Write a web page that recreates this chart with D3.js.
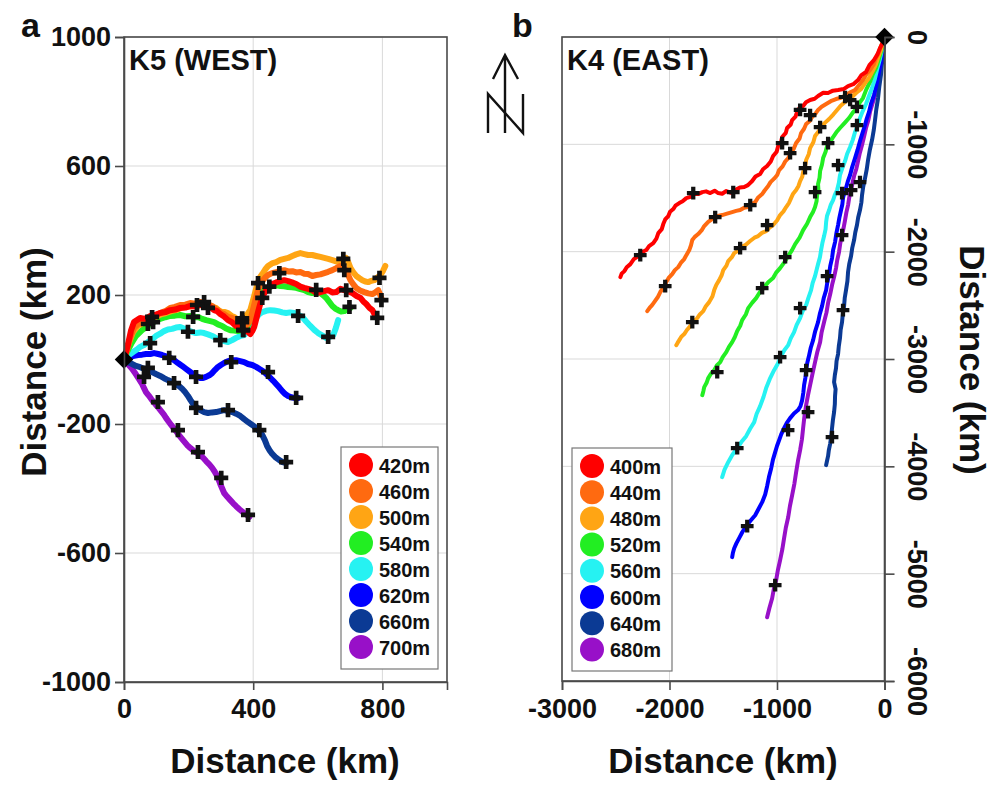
<!DOCTYPE html>
<html>
<head>
<meta charset="utf-8">
<script src="https://cdn.jsdelivr.net/npm/d3@7"></script>
<style>
  body { margin: 0; background: #fff; }
  svg text { font-family: "Liberation Sans", Arial, Helvetica, sans-serif; font-weight: bold; fill: #111; }
</style>
</head>
<body>
<svg id="fig" width="994" height="785"></svg>
<script>
// ---------- Panel a: K5 (WEST) float tracks, km east / km north of the release point ----------
const westDepths = ["420m", "460m", "500m", "540m", "580m", "620m", "660m", "700m"];
const westColors = ["#ff0000", "#ff6a10", "#ffa514", "#22ee22", "#26f2f2", "#0000ff", "#0b3a94", "#9810c8"];
const westTicksX = [0, 400, 800];
const westTicksY = [-1000, -600, -200, 200, 600, 1000];

const westTrack420 = [[0,0],[12,45],[22,91],[31,116],[50,129],[66,126],[81,135],[97,138],[112,144],[128,147],[143,153],[158,155],[174,160],[190,161],[205,166],[220,164],[236,169],[248,170],[260,166],[270,160],[279,153],[288,150],[298,141],[310,133],[322,122],[335,115],[347,104],[360,98],[372,91],[383,86],[391,79],[397,88],[403,101],[409,124],[415,147],[421,170],[428,191],[434,205],[440,215],[450,225],[459,234],[471,239],[484,243],[496,246],[508,243],[520,239],[533,234],[546,226],[558,222],[570,219],[583,215],[596,206],[608,209],[620,212],[632,215],[645,208],[657,209],[670,219],[682,215],[695,211],[707,206],[720,197],[732,191],[741,180],[750,172],[760,160],[769,153],[777,138],[784,129]];
const westTrack460 = [[0,0],[9,29],[19,67],[31,98],[50,116],[66,121],[81,129],[97,138],[112,144],[128,150],[143,160],[158,163],[174,169],[190,170],[205,175],[220,173],[236,178],[245,177],[254,175],[263,170],[273,166],[282,158],[291,153],[300,145],[310,141],[322,132],[335,129],[347,121],[360,116],[369,108],[378,104],[385,112],[391,122],[397,145],[403,169],[409,193],[415,215],[421,230],[428,243],[437,254],[446,262],[458,268],[471,271],[484,275],[496,277],[508,273],[521,274],[533,270],[546,271],[558,266],[570,265],[583,259],[595,262],[608,264],[620,268],[632,272],[645,277],[657,283],[670,290],[680,284],[688,277],[694,262],[701,246],[710,233],[719,222],[731,214],[744,209],[756,205],[769,203],[778,208],[787,215],[792,204],[797,190]];
const westTrack500 = [[0,0],[6,23],[16,54],[28,85],[43,104],[56,112],[68,119],[84,126],[99,132],[115,140],[130,144],[146,150],[161,153],[177,160],[192,163],[208,165],[223,169],[236,168],[248,172],[258,170],[267,166],[276,162],[285,160],[294,152],[304,147],[313,147],[322,144],[332,136],[341,132],[350,125],[360,122],[366,126],[372,129],[382,141],[391,153],[397,175],[403,197],[409,219],[415,240],[421,255],[428,265],[437,279],[446,290],[458,298],[471,302],[484,309],[496,312],[508,315],[521,321],[533,326],[546,330],[558,327],[570,324],[583,324],[595,321],[608,318],[620,315],[632,312],[645,308],[657,304],[670,302],[679,309],[688,315],[695,300],[701,284],[710,270],[719,259],[729,252],[738,246],[747,242],[756,240],[766,244],[775,246],[785,255],[794,262],[802,275],[809,290]];
const westTrack540 = [[0,0],[9,23],[22,48],[37,73],[56,91],[68,100],[81,110],[97,119],[112,126],[128,131],[143,135],[158,136],[174,138],[190,134],[205,135],[217,131],[229,132],[242,126],[254,122],[267,119],[279,116],[291,109],[304,104],[316,96],[329,91],[341,90],[353,88],[366,93],[378,95],[385,108],[391,122],[397,142],[403,163],[409,180],[415,194],[424,206],[434,215],[446,222],[459,228],[471,230],[484,228],[496,227],[508,225],[520,224],[533,222],[546,218],[558,215],[570,209],[583,206],[595,209],[608,206],[617,199],[626,191],[636,178],[645,166],[654,158],[663,153],[672,149],[682,150],[692,156],[701,160]];
const westTrack580 = [[0,0],[12,11],[28,23],[40,31],[50,39],[62,45],[74,54],[86,62],[99,73],[112,80],[124,88],[136,93],[149,95],[161,99],[174,101],[186,96],[198,91],[210,86],[223,82],[236,84],[248,82],[260,78],[273,73],[285,66],[298,60],[310,57],[322,54],[335,60],[347,67],[360,73],[372,76],[382,88],[391,98],[400,113],[409,129],[418,140],[428,147],[440,151],[453,153],[465,152],[477,150],[490,146],[502,144],[514,146],[527,144],[540,138],[552,132],[564,118],[577,104],[589,92],[601,82],[613,75],[626,67],[637,70],[648,76],[656,98],[663,122]];
const westTrack620 = [[0,0],[19,8],[31,11],[43,14],[56,15],[68,17],[81,17],[93,20],[106,17],[118,14],[130,10],[143,5],[155,-2],[167,-11],[180,-20],[192,-29],[204,-38],[217,-48],[226,-53],[236,-57],[245,-57],[254,-54],[264,-49],[273,-42],[282,-32],[291,-23],[300,-17],[310,-11],[322,-5],[335,-2],[347,-2],[360,-5],[372,-8],[384,-14],[397,-17],[409,-23],[422,-31],[434,-39],[444,-48],[453,-57],[462,-66],[471,-76],[481,-87],[490,-98],[499,-107],[508,-113],[518,-117],[527,-119],[539,-119]];
const westTrack660 = [[0,0],[19,-11],[37,-20],[50,-24],[62,-29],[75,-34],[87,-39],[99,-45],[112,-51],[124,-58],[136,-64],[149,-69],[161,-76],[171,-83],[180,-91],[189,-101],[198,-113],[206,-126],[214,-138],[225,-148],[236,-157],[248,-163],[260,-166],[272,-164],[285,-163],[297,-160],[310,-157],[322,-160],[335,-163],[347,-168],[360,-175],[372,-185],[384,-194],[397,-203],[409,-212],[419,-223],[428,-234],[436,-250],[443,-268],[451,-282],[459,-293],[470,-304],[481,-312],[491,-318],[502,-321]];
const westTrack700 = [[0,0],[12,-14],[25,-29],[33,-40],[40,-51],[48,-63],[56,-76],[62,-89],[68,-101],[76,-111],[84,-122],[91,-131],[99,-141],[107,-150],[115,-160],[123,-170],[130,-181],[138,-192],[146,-203],[153,-212],[161,-222],[169,-233],[177,-243],[186,-254],[195,-265],[206,-275],[217,-284],[227,-290],[236,-296],[245,-305],[254,-315],[264,-325],[273,-336],[281,-348],[288,-361],[293,-373],[298,-386],[304,-400],[310,-414],[319,-425],[329,-436],[338,-446],[347,-455],[358,-465],[369,-474],[379,-481],[388,-488]];

const westMarks420 = [[87,132],[260,160],[369,91],[428,191],[688,215],[784,129]];
const westMarks460 = [[74,110],[248,178],[366,116],[481,268],[682,277],[797,184]];
const westMarks500 = [[226,169],[366,128],[415,237],[679,312],[791,253]];
const westMarks540 = [[90,116],[214,132],[369,91],[450,226],[595,216],[698,163]];
const westMarks580 = [[81,51],[198,86],[298,60],[539,135],[632,70]];
const westMarks620 = [[140,5],[223,-54],[332,-8],[446,-39],[533,-119]];
const westMarks660 = [[74,-26],[155,-73],[223,-150],[322,-157],[419,-219],[502,-318]];
const westMarks700 = [[62,-54],[105,-132],[167,-219],[229,-287],[301,-367],[384,-482]];

// ---------- Panel b: K4 (EAST) float tracks ----------
const eastDepths = ["400m", "440m", "480m", "520m", "560m", "600m", "640m", "680m"];
const eastColors = ["#ff0000", "#ff6a10", "#ffa514", "#22ee22", "#26f2f2", "#0000ff", "#0b3a94", "#9810c8"];
const eastTicksX = [-3000, -2000, -1000, 0];
const eastTicksY = [0, -1000, -2000, -3000, -4000, -5000, -6000];

const eastTrack400 = [[0,0],[-18,-55],[-42,-103],[-66,-162],[-98,-214],[-140,-262],[-172,-326],[-215,-355],[-246,-401],[-290,-440],[-339,-457],[-380,-485],[-432,-494],[-480,-500],[-525,-522],[-570,-520],[-618,-550],[-650,-575],[-692,-587],[-730,-608],[-757,-643],[-790,-660],[-813,-699],[-828,-742],[-859,-774],[-872,-815],[-906,-848],[-918,-893],[-952,-932],[-962,-978],[-989,-1016],[-1003,-1068],[-1036,-1109],[-1058,-1160],[-1092,-1202],[-1130,-1232],[-1157,-1277],[-1200,-1300],[-1231,-1342],[-1270,-1380],[-1305,-1398],[-1345,-1402],[-1389,-1426],[-1425,-1452],[-1472,-1435],[-1510,-1460],[-1547,-1454],[-1580,-1432],[-1621,-1454],[-1660,-1438],[-1695,-1445],[-1730,-1462],[-1770,-1463],[-1805,-1490],[-1844,-1501],[-1878,-1530],[-1909,-1547],[-1945,-1572],[-1965,-1603],[-1995,-1628],[-2011,-1668],[-2040,-1700],[-2058,-1743],[-2072,-1790],[-2104,-1827],[-2122,-1878],[-2151,-1920],[-2190,-1948],[-2216,-1985],[-2258,-2005],[-2290,-2041],[-2332,-2070],[-2364,-2116],[-2398,-2145],[-2420,-2181],[-2445,-2205],[-2457,-2237]];
const eastTrack440 = [[0,0],[-15,-45],[-33,-84],[-52,-142],[-79,-196],[-100,-255],[-135,-308],[-170,-350],[-200,-401],[-240,-452],[-274,-494],[-318,-515],[-358,-541],[-405,-566],[-451,-578],[-500,-598],[-543,-624],[-585,-650],[-618,-680],[-640,-712],[-674,-746],[-695,-782],[-729,-811],[-748,-855],[-776,-895],[-790,-945],[-822,-988],[-845,-1042],[-878,-1090],[-895,-1128],[-924,-1160],[-948,-1205],[-980,-1240],[-998,-1285],[-1027,-1320],[-1060,-1352],[-1082,-1389],[-1115,-1430],[-1138,-1463],[-1175,-1495],[-1203,-1538],[-1240,-1560],[-1268,-1584],[-1305,-1590],[-1343,-1612],[-1380,-1620],[-1417,-1631],[-1465,-1645],[-1510,-1659],[-1560,-1670],[-1603,-1696],[-1640,-1722],[-1677,-1761],[-1700,-1800],[-1733,-1836],[-1765,-1862],[-1788,-1892],[-1800,-1940],[-1816,-1985],[-1842,-2030],[-1863,-2069],[-1895,-2105],[-1919,-2144],[-1950,-2172],[-1975,-2209],[-2008,-2245],[-2030,-2283],[-2055,-2332],[-2086,-2376],[-2110,-2425],[-2142,-2470],[-2160,-2495],[-2179,-2516],[-2207,-2554]];
const eastTrack480 = [[0,0],[-14,-62],[-33,-121],[-58,-190],[-79,-252],[-110,-318],[-144,-382],[-180,-430],[-218,-485],[-258,-515],[-293,-550],[-335,-575],[-367,-606],[-408,-640],[-441,-680],[-475,-720],[-515,-764],[-555,-800],[-590,-839],[-612,-878],[-646,-923],[-662,-980],[-692,-1035],[-705,-1092],[-729,-1146],[-738,-1200],[-757,-1258],[-765,-1300],[-785,-1342],[-800,-1388],[-822,-1426],[-850,-1460],[-869,-1501],[-888,-1545],[-915,-1584],[-940,-1625],[-971,-1659],[-1000,-1710],[-1036,-1752],[-1070,-1775],[-1101,-1808],[-1140,-1825],[-1175,-1855],[-1210,-1870],[-1250,-1901],[-1290,-1935],[-1333,-1957],[-1362,-1990],[-1398,-2013],[-1420,-2052],[-1454,-2088],[-1470,-2130],[-1500,-2172],[-1515,-2220],[-1538,-2265],[-1565,-2310],[-1584,-2358],[-1600,-2415],[-1631,-2470],[-1662,-2508],[-1686,-2554],[-1718,-2585],[-1742,-2619],[-1778,-2652],[-1807,-2694],[-1838,-2730],[-1863,-2768],[-1890,-2792],[-1909,-2824],[-1925,-2850],[-1937,-2871]];
const eastTrack520 = [[0,0],[-14,-72],[-33,-140],[-55,-215],[-79,-289],[-110,-350],[-135,-419],[-170,-490],[-200,-569],[-232,-612],[-256,-662],[-295,-705],[-330,-755],[-370,-800],[-414,-848],[-448,-888],[-478,-932],[-505,-978],[-534,-1016],[-548,-1070],[-571,-1128],[-582,-1190],[-599,-1249],[-604,-1310],[-618,-1370],[-615,-1420],[-627,-1473],[-632,-1530],[-646,-1584],[-665,-1630],[-692,-1678],[-720,-1740],[-757,-1799],[-790,-1870],[-831,-1929],[-860,-1985],[-896,-2041],[-932,-2100],[-971,-2153],[-1008,-2195],[-1036,-2246],[-1080,-2282],[-1119,-2330],[-1160,-2378],[-1194,-2433],[-1230,-2475],[-1268,-2526],[-1290,-2585],[-1324,-2638],[-1342,-2690],[-1370,-2740],[-1392,-2795],[-1417,-2843],[-1448,-2890],[-1472,-2936],[-1505,-2982],[-1528,-3029],[-1560,-3060],[-1584,-3104],[-1615,-3138],[-1640,-3178],[-1655,-3222],[-1677,-3262],[-1685,-3300],[-1695,-3337]];
const eastTrack560 = [[0,0],[-10,-60],[-23,-121],[-45,-215],[-70,-308],[-90,-392],[-116,-475],[-145,-552],[-172,-624],[-202,-690],[-228,-755],[-248,-822],[-274,-885],[-295,-958],[-320,-1025],[-348,-1090],[-367,-1156],[-392,-1222],[-414,-1286],[-425,-1360],[-441,-1426],[-462,-1470],[-478,-1519],[-500,-1565],[-515,-1612],[-535,-1668],[-543,-1724],[-548,-1790],[-562,-1855],[-578,-1920],[-590,-1985],[-600,-2050],[-618,-2116],[-632,-2170],[-646,-2227],[-668,-2290],[-683,-2358],[-708,-2430],[-729,-2498],[-762,-2555],[-785,-2619],[-818,-2685],[-841,-2750],[-872,-2808],[-896,-2871],[-932,-2918],[-962,-2973],[-990,-3040],[-1027,-3104],[-1068,-3188],[-1101,-3271],[-1125,-3352],[-1157,-3439],[-1190,-3512],[-1212,-3588],[-1250,-3650],[-1287,-3719],[-1330,-3772],[-1370,-3831],[-1415,-3892],[-1454,-3961],[-1488,-4030],[-1510,-4101]];
const eastTrack600 = [[0,0],[-5,-60],[-14,-121],[-30,-225],[-51,-326],[-72,-435],[-98,-541],[-125,-620],[-144,-699],[-165,-760],[-181,-820],[-205,-895],[-228,-969],[-250,-1050],[-274,-1128],[-300,-1210],[-320,-1286],[-342,-1348],[-358,-1407],[-375,-1455],[-386,-1501],[-392,-1558],[-404,-1612],[-420,-1685],[-432,-1752],[-448,-1830],[-460,-1911],[-478,-1985],[-488,-2060],[-505,-2135],[-515,-2209],[-532,-2285],[-543,-2358],[-565,-2432],[-581,-2507],[-602,-2582],[-618,-2656],[-645,-2742],[-664,-2824],[-686,-2895],[-701,-2964],[-718,-3035],[-729,-3104],[-736,-3175],[-748,-3243],[-755,-3312],[-766,-3383],[-782,-3440],[-804,-3476],[-842,-3508],[-878,-3551],[-910,-3598],[-934,-3644],[-960,-3700],[-980,-3756],[-1000,-3810],[-1017,-3868],[-1038,-3940],[-1054,-4017],[-1075,-4100],[-1092,-4185],[-1110,-4262],[-1138,-4334],[-1172,-4398],[-1203,-4455],[-1245,-4505],[-1287,-4557],[-1322,-4612],[-1352,-4669],[-1378,-4718],[-1398,-4763],[-1410,-4805],[-1417,-4846]];
const eastTrack640 = [[0,0],[-6,-85],[-14,-168],[-25,-260],[-33,-354],[-48,-460],[-60,-569],[-76,-672],[-88,-774],[-100,-868],[-116,-960],[-136,-1050],[-153,-1146],[-165,-1232],[-181,-1314],[-198,-1395],[-209,-1473],[-215,-1542],[-228,-1612],[-245,-1682],[-256,-1752],[-272,-1822],[-283,-1892],[-300,-1965],[-311,-2041],[-328,-2115],[-339,-2190],[-345,-2275],[-358,-2358],[-370,-2432],[-376,-2507],[-388,-2582],[-395,-2656],[-408,-2730],[-414,-2805],[-425,-2880],[-432,-2954],[-446,-3020],[-451,-3085],[-462,-3150],[-469,-3215],[-455,-3280],[-460,-3346],[-462,-3420],[-469,-3495],[-480,-3570],[-488,-3644],[-495,-3720],[-506,-3793],[-518,-3850],[-525,-3905],[-535,-3950],[-543,-3989]];
const eastTrack680 = [[0,0],[-10,-85],[-23,-168],[-38,-262],[-51,-354],[-70,-450],[-88,-541],[-112,-622],[-135,-699],[-150,-775],[-172,-848],[-190,-928],[-209,-1007],[-230,-1082],[-246,-1156],[-262,-1228],[-283,-1295],[-298,-1362],[-311,-1426],[-328,-1495],[-339,-1566],[-355,-1636],[-367,-1706],[-380,-1775],[-395,-1845],[-412,-1925],[-423,-2004],[-440,-2080],[-451,-2153],[-468,-2232],[-488,-2311],[-505,-2395],[-525,-2479],[-540,-2568],[-562,-2656],[-585,-2750],[-599,-2843],[-625,-2935],[-646,-3029],[-670,-3138],[-692,-3243],[-712,-3338],[-729,-3430],[-745,-3535],[-757,-3644],[-768,-3748],[-785,-3849],[-805,-3950],[-822,-4054],[-838,-4160],[-859,-4269],[-880,-4372],[-896,-4474],[-918,-4572],[-934,-4669],[-950,-4770],[-971,-4874],[-992,-4968],[-1008,-5061],[-1030,-5145],[-1045,-5229],[-1070,-5318],[-1092,-5406]];

const eastMarks400 = [[-785,-680],[-952,-988],[-1407,-1445],[-1779,-1454],[-2272,-2032]];
const eastMarks440 = [[-367,-559],[-692,-727],[-878,-1081],[-1249,-1566],[-1575,-1678],[-2040,-2321]];
const eastMarks480 = [[-320,-587],[-599,-839],[-739,-1221],[-1092,-1752],[-1343,-1967],[-1788,-2656]];
const eastMarks520 = [[-256,-652],[-525,-988],[-646,-1445],[-924,-2050],[-1138,-2339],[-1556,-3122]];
const eastMarks560 = [[-256,-820],[-432,-1193],[-785,-2526],[-971,-2982],[-1370,-3831]];
const eastMarks600 = [[-395,-1454],[-534,-2227],[-729,-3104],[-897,-3663],[-1277,-4557]];
const eastMarks640 = [[-228,-1351],[-386,-2544],[-488,-3728]];
const eastMarks680 = [[-311,-1426],[-395,-1845],[-711,-3495],[-1017,-5107]];

const westTracks = [westTrack420, westTrack460, westTrack500, westTrack540, westTrack580, westTrack620, westTrack660, westTrack700];
const westMarks = [westMarks420, westMarks460, westMarks500, westMarks540, westMarks580, westMarks620, westMarks660, westMarks700];
const eastTracks = [eastTrack400, eastTrack440, eastTrack480, eastTrack520, eastTrack560, eastTrack600, eastTrack640, eastTrack680];
const eastMarks = [eastMarks400, eastMarks440, eastMarks480, eastMarks520, eastMarks560, eastMarks600, eastMarks640, eastMarks680];

const svg = d3.select("#fig");
const gridColor = "#d9d9d9";
const frameColor = "#4a4a4a";

function drawPanel(p) {
  const g = svg.append("g");
  const [x0, x1] = p.x.range();
  const [y0, y1] = p.y.range(); // y0 bottom, y1 top

  // grid
  g.append("g").selectAll("line").data(p.ticksX).join("line")
    .attr("x1", d => p.x(d)).attr("x2", d => p.x(d))
    .attr("y1", y0).attr("y2", y1)
    .attr("stroke", gridColor).attr("stroke-width", 1);
  g.append("g").selectAll("line").data(p.ticksY).join("line")
    .attr("x1", x0).attr("x2", x1)
    .attr("y1", d => p.y(d)).attr("y2", d => p.y(d))
    .attr("stroke", gridColor).attr("stroke-width", 1);

  // tracks, deepest first so the shallow ones sit on top
  const line = d3.line().x(d => p.x(d[0])).y(d => p.y(d[1]));
  const order = d3.range(p.tracks.length).reverse();
  g.append("g").selectAll("path").data(order).join("path")
    .attr("d", i => line(p.tracks[i]))
    .attr("fill", "none")
    .attr("stroke", i => p.colors[i])
    .attr("stroke-width", p.lineWidth)
    .attr("stroke-linejoin", "round")
    .attr("stroke-linecap", "round");

  // time markers
  const cross = d3.symbol().type(d3.symbolCross).size(p.markSize)();
  const marks = p.marks.flat();
  g.append("g").selectAll("path").data(marks).join("path")
    .attr("d", cross)
    .attr("transform", d => `translate(${p.x(d[0])},${p.y(d[1])})`)
    .attr("fill", "#111");

  // frame
  g.append("rect")
    .attr("x", x0).attr("y", y1)
    .attr("width", x1 - x0).attr("height", y0 - y1)
    .attr("fill", "none").attr("stroke", frameColor).attr("stroke-width", 1.6);

  // release point
  g.append("path")
    .attr("d", d3.symbol().type(d3.symbolSquare).size(170)())
    .attr("transform", `translate(${p.x(0)},${p.y(0)}) rotate(45)`)
    .attr("fill", "#000");

  // panel title inside frame
  g.append("text").attr("x", x0 + 5).attr("y", y1 + 33)
    .attr("font-size", 29).text(p.title);

  // legend
  const lg = g.append("g");
  lg.append("rect")
    .attr("x", p.legend.x).attr("y", p.legend.y)
    .attr("width", p.legend.w).attr("height", p.legend.h)
    .attr("fill", "#fff").attr("stroke", "#777").attr("stroke-width", 1.2);
  const rows = lg.selectAll("g").data(p.depths).join("g")
    .attr("transform", (d, i) => `translate(${p.legend.x},${p.legend.y + 18 + i * p.legend.step})`);
  rows.append("circle").attr("cx", 20).attr("cy", 0).attr("r", 12)
    .attr("fill", (d, i) => p.colors[i]);
  rows.append("text").attr("x", 38).attr("y", 7.5)
    .attr("font-size", 20).text(d => d);
  return g;
}

// ---------- panel a ----------
const xA = d3.scaleLinear().domain([0, 1000]).range([124, 447]);
const yA = d3.scaleLinear().domain([-1000, 1000]).range([682, 37]);
drawPanel({
  x: xA, y: yA, ticksX: westTicksX, ticksY: westTicksY,
  tracks: westTracks, marks: westMarks, colors: westColors, depths: westDepths,
  lineWidth: 6, markSize: 110, title: "K5 (WEST)",
  legend: { x: 341, y: 447, w: 97, h: 222, step: 26 }
});
const fmt = d => String(d);
const axAL = svg.append("g").attr("transform", "translate(124,0)")
  .call(d3.axisLeft(yA).tickValues(westTicksY).tickSize(9).tickPadding(4).tickFormat(fmt));
const axAB = svg.append("g").attr("transform", "translate(0,682)")
  .call(d3.axisBottom(xA).tickValues(westTicksX).tickSize(8).tickPadding(9).tickFormat(fmt));

// ---------- panel b ----------
const xB = d3.scaleLinear().domain([-3000, 0]).range([562, 884.5]);
const yB = d3.scaleLinear().domain([-6000, 0]).range([681, 37]);
drawPanel({
  x: xB, y: yB, ticksX: eastTicksX, ticksY: eastTicksY,
  tracks: eastTracks, marks: eastMarks, colors: eastColors, depths: eastDepths,
  lineWidth: 4, markSize: 90, title: "K4 (EAST)",
  legend: { x: 572, y: 448, w: 100, h: 223, step: 26.2 }
});
const axBR = svg.append("g").attr("transform", "translate(884.5,0)")
  .call(d3.axisRight(yB).tickValues(eastTicksY).tickSize(10).tickFormat(fmt));
axBR.selectAll(".tick text")
  .attr("x", null).attr("dy", null)
  .attr("text-anchor", "middle")
  .attr("transform", "translate(23,0) rotate(90)");
const axBB = svg.append("g").attr("transform", "translate(0,681)")
  .call(d3.axisBottom(xB).tickValues(eastTicksX).tickSize(9).tickPadding(9).tickFormat(fmt));

// shared axis styling
[axAL, axAB, axBR, axBB].forEach(ax => {
  ax.select(".domain").attr("stroke", frameColor).attr("stroke-width", 1.6);
  ax.selectAll(".tick line").attr("stroke", frameColor).attr("stroke-width", 1.6);
  ax.selectAll(".tick text")
    .attr("font-size", 27).attr("fill", "#111")
    .attr("font-family", '"Liberation Sans", Arial, sans-serif').attr("font-weight", "bold");
});

// axis titles
svg.append("text").attr("x", 285).attr("y", 773).attr("text-anchor", "middle")
  .attr("font-size", 35).text("Distance (km)");
svg.append("text").attr("transform", "translate(46,362) rotate(-90)").attr("text-anchor", "middle")
  .attr("font-size", 35).text("Distance (km)");
svg.append("text").attr("x", 723).attr("y", 773).attr("text-anchor", "middle")
  .attr("font-size", 35).text("Distance (km)");
svg.append("text").attr("transform", "translate(960,360) rotate(90)").attr("text-anchor", "middle")
  .attr("font-size", 35).text("Distance (km)");

// panel letters
svg.append("text").attr("x", 21).attr("y", 37).attr("font-size", 34).text("a");
svg.append("text").attr("x", 512).attr("y", 37).attr("font-size", 34).text("b");

// north arrow
const north = svg.append("g").attr("fill", "none").attr("stroke", "#111")
  .attr("stroke-width", 2.4).attr("stroke-linejoin", "miter");
north.append("path").attr("d", "M505,133 L505,55 M493,79 L505,55 L518,79");
north.append("path").attr("d", "M488,133 L488,94 L523,133 L523,94");
</script>
</body>
</html>
